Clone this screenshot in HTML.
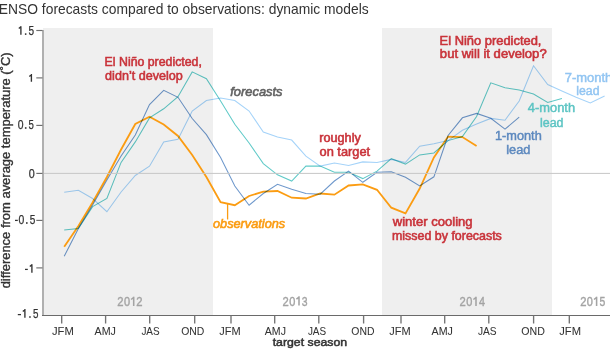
<!DOCTYPE html>
<html><head><meta charset="utf-8"><style>
html,body{margin:0;padding:0;background:#fff;width:610px;height:350px;overflow:hidden}
svg{display:block;will-change:transform;font-family:"Liberation Sans", sans-serif}
</style></head><body>
<svg width="610" height="350" viewBox="0 0 610 350">
<rect x="0" y="0" width="610" height="350" fill="#fff"/>
<rect x="43" y="28" width="170" height="287" fill="#efefef"/>
<rect x="382" y="28" width="170" height="287" fill="#efefef"/>
<polyline points="64.2,246.8 78.4,226.0 92.6,202.5 106.9,177.0 121.1,149.5 135.3,124.0 149.5,116.8 163.7,124.5 178.0,136.0 192.2,155.0 206.4,177.0 220.6,202.2 234.8,205.2 249.1,196.0 263.3,191.7 277.5,191.0 291.7,197.7 305.9,198.5 320.2,193.5 334.4,194.7 348.6,185.5 362.8,184.3 377.0,189.8 391.3,207.7 405.5,213.4 419.7,188.5 433.9,157.4 448.1,136.6 462.4,137.1 476.6,146.1" fill="none" stroke="#fb9c12" stroke-width="1.8"/>
<g style="mix-blend-mode:multiply">
<polyline points="64.2,192.2 78.4,190.3 92.6,198.5 106.9,211.7 121.1,192.0 135.3,175.5 149.5,166.2 163.7,141.9 178.0,139.2 192.2,111.0 206.4,100.5 220.6,98.0 234.8,100.5 249.1,111.0 263.3,132.1 277.5,137.1 291.7,140.1 305.9,156.2 320.2,166.1 334.4,163.1 348.6,165.4 362.8,161.9 377.0,162.4 391.3,159.4 405.5,162.4 419.7,146.2 433.9,143.7 448.1,140.6 462.4,130.3 476.6,124.0 490.8,118.4 505.0,120.2 519.2,101.0 533.5,65.7 547.7,84.5 561.9,91.0 576.1,97.3 590.3,103.0 604.6,96.0" fill="none" stroke="#a5d3f9" stroke-width="1.05" style="mix-blend-mode:multiply"/>
<polyline points="64.2,230.0 78.4,228.4 92.6,206.6 106.9,198.5 121.1,162.4 135.3,141.9 149.5,117.9 163.7,108.8 178.0,96.7 192.2,71.9 206.4,78.7 220.6,101.0 234.8,124.2 249.1,143.0 263.3,163.6 277.5,174.8 291.7,181.0 305.9,166.1 320.2,166.1 334.4,172.3 348.6,172.3 362.8,178.6 377.0,171.1 391.3,158.7 405.5,164.1 419.7,154.9 433.9,152.9 448.1,140.6 462.4,136.6 476.6,116.5 490.8,82.8 505.0,87.8 519.2,90.0 533.5,94.0 547.7,102.5 561.9,98.6" fill="none" stroke="#60cac8" stroke-width="1.05" style="mix-blend-mode:multiply"/>
<polyline points="64.2,256.3 78.4,228.5 92.6,205.0 106.9,180.0 121.1,156.0 135.3,135.0 149.5,104.6 163.7,90.3 178.0,97.3 192.2,118.5 206.4,134.6 220.6,157.4 234.8,186.0 249.1,205.2 263.3,193.5 277.5,184.3 291.7,189.3 305.9,193.5 320.2,194.2 334.4,181.0 348.6,171.1 362.8,182.3 377.0,172.3 391.3,171.8 405.5,177.3 419.7,186.0 433.9,176.8 448.1,135.5 462.4,117.8 476.6,113.4 490.8,118.3 505.0,129.2 519.2,117.2" fill="none" stroke="#6e98cc" stroke-width="1.05" style="mix-blend-mode:multiply"/>
</g>
<line x1="43" y1="173.4" x2="610" y2="173.4" stroke="#c6c6c6" stroke-width="1"/>
<line x1="227.6" y1="204" x2="227.6" y2="219.5" stroke="#fb9c12" stroke-width="1.3"/>
<line x1="43" y1="30" x2="43" y2="315.5" stroke="#b0b0b0" stroke-width="2"/>
<line x1="42" y1="315.45" x2="610" y2="315.45" stroke="#6a6a6a" stroke-width="1.15"/>
<line x1="36.3" y1="30.5" x2="42.5" y2="30.5" stroke="#6e6e6e" stroke-width="1.15"/>
<line x1="36.3" y1="77.9" x2="42.5" y2="77.9" stroke="#6e6e6e" stroke-width="1.15"/>
<line x1="36.3" y1="125.4" x2="42.5" y2="125.4" stroke="#6e6e6e" stroke-width="1.15"/>
<line x1="36.3" y1="173.4" x2="42.5" y2="173.4" stroke="#6e6e6e" stroke-width="1.15"/>
<line x1="36.3" y1="220.4" x2="42.5" y2="220.4" stroke="#6e6e6e" stroke-width="1.15"/>
<line x1="36.3" y1="267.9" x2="42.5" y2="267.9" stroke="#6e6e6e" stroke-width="1.15"/>
<path d="M20.90 26.20 V34.80 M21.20 26.60 L18.80 28.60" stroke="#333333" stroke-width="1.35" fill="none"/>
<rect x="24.90" y="33.30" width="1.50" height="1.6" fill="#333333"/>
<text x="28.59" y="35.00" font-size="12" font-weight="normal" font-style="normal" fill="#333333" textLength="5.57" lengthAdjust="spacingAndGlyphs" stroke="#333333" stroke-width="0.25">5</text>
<path d="M31.40 74.00 V81.80 M31.70 74.40 L29.30 76.40" stroke="#333333" stroke-width="1.35" fill="none"/>
<text x="17.78" y="128.80" font-size="12" font-weight="normal" font-style="normal" fill="#333333" textLength="5.78" lengthAdjust="spacingAndGlyphs" stroke="#333333" stroke-width="0.25">0</text>
<rect x="24.90" y="127.20" width="1.60" height="1.6" fill="#333333"/>
<text x="28.60" y="128.80" font-size="12" font-weight="normal" font-style="normal" fill="#333333" textLength="5.35" lengthAdjust="spacingAndGlyphs" stroke="#333333" stroke-width="0.25">5</text>
<text x="28.78" y="177.80" font-size="12" font-weight="normal" font-style="normal" fill="#333333" textLength="5.99" lengthAdjust="spacingAndGlyphs" stroke="#333333" stroke-width="0.25">0</text>
<rect x="15.00" y="219.78" width="2.80" height="1.25" fill="#333333"/>
<text x="18.58" y="223.80" font-size="12" font-weight="normal" font-style="normal" fill="#333333" textLength="5.78" lengthAdjust="spacingAndGlyphs" stroke="#333333" stroke-width="0.25">0</text>
<rect x="26.00" y="222.20" width="1.60" height="1.6" fill="#333333"/>
<text x="29.79" y="223.80" font-size="12" font-weight="normal" font-style="normal" fill="#333333" textLength="5.57" lengthAdjust="spacingAndGlyphs" stroke="#333333" stroke-width="0.25">5</text>
<rect x="25.00" y="268.78" width="2.80" height="1.25" fill="#333333"/>
<path d="M31.90 264.20 V272.80 M32.20 264.60 L29.80 266.60" stroke="#333333" stroke-width="1.35" fill="none"/>
<rect x="17.80" y="313.98" width="3.20" height="1.25" fill="#333333"/>
<path d="M24.90 309.00 V317.80 M25.20 309.40 L22.80 311.40" stroke="#333333" stroke-width="1.35" fill="none"/>
<rect x="29.20" y="316.20" width="1.50" height="1.6" fill="#333333"/>
<text x="32.90" y="317.80" font-size="12" font-weight="normal" font-style="normal" fill="#333333" textLength="5.46" lengthAdjust="spacingAndGlyphs" stroke="#333333" stroke-width="0.25">5</text>
<line x1="61.7" y1="315.5" x2="61.7" y2="323.5" stroke="#737373" stroke-width="1.35"/>
<text x="51.96" y="335.00" font-size="11.8" font-weight="normal" font-style="normal" fill="#333333" textLength="21.83" lengthAdjust="spacingAndGlyphs" stroke="#333333" stroke-width="0.05">JFM</text>
<line x1="105.6" y1="315.5" x2="105.6" y2="323.5" stroke="#737373" stroke-width="1.35"/>
<text x="94.60" y="335.00" font-size="11.8" font-weight="normal" font-style="normal" fill="#333333" textLength="21.36" lengthAdjust="spacingAndGlyphs" stroke="#333333" stroke-width="0.05">AMJ</text>
<line x1="149.7" y1="315.5" x2="149.7" y2="323.5" stroke="#737373" stroke-width="1.35"/>
<text x="141.39" y="335.00" font-size="11.8" font-weight="normal" font-style="normal" fill="#333333" textLength="18.24" lengthAdjust="spacingAndGlyphs" stroke="#333333" stroke-width="0.05">JAS</text>
<line x1="194.7" y1="315.5" x2="194.7" y2="323.5" stroke="#737373" stroke-width="1.35"/>
<text x="181.16" y="335.00" font-size="11.8" font-weight="normal" font-style="normal" fill="#333333" textLength="23.16" lengthAdjust="spacingAndGlyphs" stroke="#333333" stroke-width="0.05">OND</text>
<line x1="231.0" y1="315.5" x2="231.0" y2="323.5" stroke="#737373" stroke-width="1.35"/>
<text x="219.37" y="335.00" font-size="11.8" font-weight="normal" font-style="normal" fill="#333333" textLength="21.41" lengthAdjust="spacingAndGlyphs" stroke="#333333" stroke-width="0.05">JFM</text>
<line x1="274.7" y1="315.5" x2="274.7" y2="323.5" stroke="#737373" stroke-width="1.35"/>
<text x="264.80" y="335.00" font-size="11.8" font-weight="normal" font-style="normal" fill="#333333" textLength="21.16" lengthAdjust="spacingAndGlyphs" stroke="#333333" stroke-width="0.05">AMJ</text>
<line x1="318.8" y1="315.5" x2="318.8" y2="323.5" stroke="#737373" stroke-width="1.35"/>
<text x="307.89" y="335.00" font-size="11.8" font-weight="normal" font-style="normal" fill="#333333" textLength="18.24" lengthAdjust="spacingAndGlyphs" stroke="#333333" stroke-width="0.05">JAS</text>
<line x1="363.6" y1="315.5" x2="363.6" y2="323.5" stroke="#737373" stroke-width="1.35"/>
<text x="351.36" y="335.00" font-size="11.8" font-weight="normal" font-style="normal" fill="#333333" textLength="23.16" lengthAdjust="spacingAndGlyphs" stroke="#333333" stroke-width="0.05">OND</text>
<line x1="401.0" y1="315.5" x2="401.0" y2="323.5" stroke="#737373" stroke-width="1.35"/>
<text x="389.37" y="335.00" font-size="11.8" font-weight="normal" font-style="normal" fill="#333333" textLength="21.41" lengthAdjust="spacingAndGlyphs" stroke="#333333" stroke-width="0.05">JFM</text>
<line x1="444.7" y1="315.5" x2="444.7" y2="323.5" stroke="#737373" stroke-width="1.35"/>
<text x="431.60" y="335.00" font-size="11.8" font-weight="normal" font-style="normal" fill="#333333" textLength="21.26" lengthAdjust="spacingAndGlyphs" stroke="#333333" stroke-width="0.05">AMJ</text>
<line x1="488.8" y1="315.5" x2="488.8" y2="323.5" stroke="#737373" stroke-width="1.35"/>
<text x="477.88" y="335.00" font-size="11.8" font-weight="normal" font-style="normal" fill="#333333" textLength="18.65" lengthAdjust="spacingAndGlyphs" stroke="#333333" stroke-width="0.05">JAS</text>
<line x1="533.6" y1="315.5" x2="533.6" y2="323.5" stroke="#737373" stroke-width="1.35"/>
<text x="521.35" y="335.00" font-size="11.8" font-weight="normal" font-style="normal" fill="#333333" textLength="23.57" lengthAdjust="spacingAndGlyphs" stroke="#333333" stroke-width="0.05">OND</text>
<line x1="569.3" y1="315.5" x2="569.3" y2="323.5" stroke="#737373" stroke-width="1.35"/>
<text x="559.26" y="335.00" font-size="11.8" font-weight="normal" font-style="normal" fill="#333333" textLength="21.72" lengthAdjust="spacingAndGlyphs" stroke="#333333" stroke-width="0.05">JFM</text>
<text x="272.70" y="346.30" font-size="11.2" font-weight="normal" font-style="normal" fill="#333333" textLength="74.50" lengthAdjust="spacingAndGlyphs" stroke="#333333" stroke-width="0.5">target season</text>
<text x="-1.21" y="13.80" font-size="14.3" font-weight="normal" font-style="normal" fill="#333333" textLength="369.86" lengthAdjust="spacingAndGlyphs">ENSO forecasts compared to observations: dynamic models</text>
<text transform="translate(10,288.37) rotate(-90)" x="0" y="0" font-size="12" fill="#333333" textLength="236.01" lengthAdjust="spacingAndGlyphs" font-weight="normal" stroke="#333333" stroke-width="0.35">difference from average temperature (˚C)</text>
<text x="117.27" y="305.90" font-size="13" fill="#a3a3a3" stroke="#a3a3a3" stroke-width="0.4" textLength="6.25" lengthAdjust="spacingAndGlyphs">2</text>
<text x="123.89" y="305.90" font-size="13" fill="#a3a3a3" stroke="#a3a3a3" stroke-width="0.4" textLength="6.11" lengthAdjust="spacingAndGlyphs">0</text>
<path d="M133.70 296.70 V305.90 M134.10 297.20 L131.10 299.50" stroke="#a3a3a3" stroke-width="1.55" fill="none"/>
<text x="136.27" y="305.90" font-size="13" fill="#a3a3a3" stroke="#a3a3a3" stroke-width="0.4" textLength="6.25" lengthAdjust="spacingAndGlyphs">2</text>
<text x="282.57" y="305.50" font-size="13" fill="#a3a3a3" stroke="#a3a3a3" stroke-width="0.4" textLength="6.25" lengthAdjust="spacingAndGlyphs">2</text>
<text x="289.19" y="305.50" font-size="13" fill="#a3a3a3" stroke="#a3a3a3" stroke-width="0.4" textLength="6.11" lengthAdjust="spacingAndGlyphs">0</text>
<path d="M299.00 296.30 V305.50 M299.40 296.80 L296.40 299.10" stroke="#a3a3a3" stroke-width="1.55" fill="none"/>
<text x="301.80" y="305.50" font-size="13" fill="#a3a3a3" stroke="#a3a3a3" stroke-width="0.4" textLength="5.79" lengthAdjust="spacingAndGlyphs">3</text>
<text x="459.57" y="305.90" font-size="13" fill="#a3a3a3" stroke="#a3a3a3" stroke-width="0.4" textLength="6.25" lengthAdjust="spacingAndGlyphs">2</text>
<text x="466.19" y="305.90" font-size="13" fill="#a3a3a3" stroke="#a3a3a3" stroke-width="0.4" textLength="6.11" lengthAdjust="spacingAndGlyphs">0</text>
<path d="M476.00 296.70 V305.90 M476.40 297.20 L473.40 299.50" stroke="#a3a3a3" stroke-width="1.55" fill="none"/>
<text x="479.00" y="305.90" font-size="13" fill="#a3a3a3" stroke="#a3a3a3" stroke-width="0.4" textLength="5.99" lengthAdjust="spacingAndGlyphs">4</text>
<text x="580.17" y="305.90" font-size="13" fill="#a3a3a3" stroke="#a3a3a3" stroke-width="0.4" textLength="6.25" lengthAdjust="spacingAndGlyphs">2</text>
<text x="586.79" y="305.90" font-size="13" fill="#a3a3a3" stroke="#a3a3a3" stroke-width="0.4" textLength="6.11" lengthAdjust="spacingAndGlyphs">0</text>
<path d="M596.60 296.70 V305.90 M597.00 297.20 L594.00 299.50" stroke="#a3a3a3" stroke-width="1.55" fill="none"/>
<text x="599.40" y="305.90" font-size="13" fill="#a3a3a3" stroke="#a3a3a3" stroke-width="0.4" textLength="5.79" lengthAdjust="spacingAndGlyphs">5</text>
<text x="104.63" y="65.80" font-size="12" font-weight="normal" font-style="normal" fill="#c9333a" textLength="97.21" lengthAdjust="spacingAndGlyphs" stroke="#c9333a" stroke-width="0.55">El Niño predicted,</text>
<text x="105.14" y="79.70" font-size="12" font-weight="normal" font-style="normal" fill="#c9333a" textLength="77.59" lengthAdjust="spacingAndGlyphs" stroke="#c9333a" stroke-width="0.55">didn’t develop</text>
<text x="439.59" y="44.70" font-size="12" font-weight="normal" font-style="normal" fill="#c9333a" textLength="101.88" lengthAdjust="spacingAndGlyphs" stroke="#c9333a" stroke-width="0.55">El Niño predicted,</text>
<text x="439.86" y="57.90" font-size="12" font-weight="normal" font-style="normal" fill="#c9333a" textLength="106.81" lengthAdjust="spacingAndGlyphs" stroke="#c9333a" stroke-width="0.55">but will it develop?</text>
<text x="319.27" y="141.80" font-size="12" font-weight="normal" font-style="normal" fill="#c9333a" textLength="41.52" lengthAdjust="spacingAndGlyphs" stroke="#c9333a" stroke-width="0.55">roughly</text>
<text x="319.53" y="156.00" font-size="12" font-weight="normal" font-style="normal" fill="#c9333a" textLength="50.57" lengthAdjust="spacingAndGlyphs" stroke="#c9333a" stroke-width="0.55">on target</text>
<text x="392.77" y="225.80" font-size="12" font-weight="normal" font-style="normal" fill="#c9333a" textLength="79.84" lengthAdjust="spacingAndGlyphs" stroke="#c9333a" stroke-width="0.55">winter cooling</text>
<text x="391.98" y="240.20" font-size="12" font-weight="normal" font-style="normal" fill="#c9333a" textLength="109.87" lengthAdjust="spacingAndGlyphs" stroke="#c9333a" stroke-width="0.55">missed by forecasts</text>
<text x="230.30" y="96.00" font-size="13" font-weight="normal" font-style="italic" fill="#626262" textLength="52.20" lengthAdjust="spacingAndGlyphs" stroke="#626262" stroke-width="0.6">forecasts</text>
<text x="213.00" y="227.50" font-size="12.5" font-weight="normal" font-style="italic" fill="#fb9c12" textLength="72.17" lengthAdjust="spacingAndGlyphs" stroke="#fb9c12" stroke-width="0.6">observations</text>
<text x="564.73" y="81.50" font-size="12" font-weight="normal" font-style="normal" fill="#92c5f2" textLength="47.54" lengthAdjust="spacingAndGlyphs" stroke="#92c5f2" stroke-width="0.45">7-month</text>
<text x="576.29" y="95.20" font-size="12" font-weight="normal" font-style="normal" fill="#92c5f2" textLength="23.16" lengthAdjust="spacingAndGlyphs" stroke="#92c5f2" stroke-width="0.45">lead</text>
<text x="527.80" y="111.80" font-size="12" font-weight="normal" font-style="normal" fill="#5cc4c3" textLength="47.27" lengthAdjust="spacingAndGlyphs" stroke="#5cc4c3" stroke-width="0.45">4-month</text>
<text x="539.98" y="126.50" font-size="12" font-weight="normal" font-style="normal" fill="#5cc4c3" textLength="23.47" lengthAdjust="spacingAndGlyphs" stroke="#5cc4c3" stroke-width="0.45">lead</text>
<text x="495.00" y="139.80" font-size="12" font-weight="normal" font-style="normal" fill="#5d89bf" textLength="46.76" lengthAdjust="spacingAndGlyphs" stroke="#5d89bf" stroke-width="0.45">1-month</text>
<text x="506.27" y="153.50" font-size="12" font-weight="normal" font-style="normal" fill="#5d89bf" textLength="24.20" lengthAdjust="spacingAndGlyphs" stroke="#5d89bf" stroke-width="0.45">lead</text>
</svg>
</body></html>
